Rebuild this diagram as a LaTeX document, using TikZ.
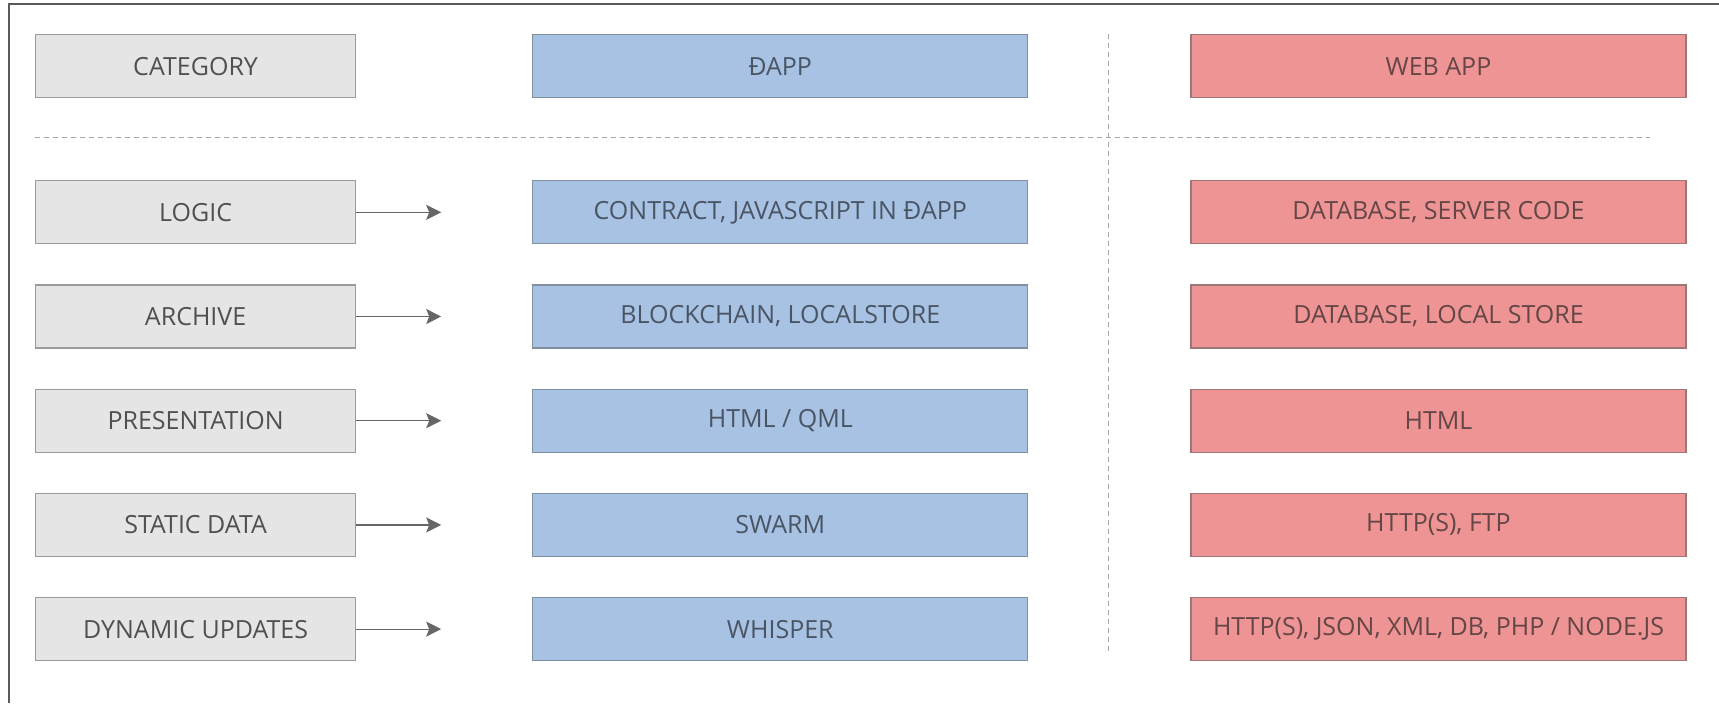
\documentclass[tikz,border=0pt]{standalone}
\usepackage{fontspec}
\setmainfont{Open Sans}
\usepackage{xcolor}
\usetikzlibrary{arrows.meta,positioning}
\definecolor{catgray}{RGB}{229,229,229}
\definecolor{catedge}{RGB}{155,155,155}
\definecolor{dappblue}{RGB}{168,194,228}
\definecolor{dappedge}{RGB}{128,142,160}
\definecolor{webred}{RGB}{239,148,148}
\definecolor{webedge}{RGB}{155,120,120}
\definecolor{txtgray}{RGB}{80,80,80}
\definecolor{txtblue}{RGB}{74,85,100}
\definecolor{txtred}{RGB}{100,70,70}
\definecolor{framegray}{RGB}{90,90,90}

\begin{document}
\begin{tikzpicture}[
  box/.style={draw, line width=0.6pt, minimum height=31.5pt, inner sep=0pt,
              font=\fontsize{12.5}{14}\selectfont},
  cat/.style={box, fill=catgray, draw=catedge, text=txtgray, minimum width=160pt},
  dapp/.style={box, fill=dappblue, draw=dappedge, text=txtblue, minimum width=247.5pt},
  web/.style={box, fill=webred, draw=webedge, text=txtred, minimum width=247.5pt},
  arr/.style={-{Stealth[length=7.5pt, width=7.5pt, inset=1.5pt]}, line width=0.6pt,
              draw=black!60, fill=black!72},
  sep/.style={draw=black!35, line width=0.5pt, dash pattern=on 2.5pt off 2pt},
  node distance=20pt
]
\useasboundingbox (0,0) rectangle (859.5pt,-351.5pt);
\draw[framegray, line width=1pt] (4.5pt,-351.5pt) -- (4.5pt,-2pt) -- (859.5pt,-2pt);

% header row
\node[cat, anchor=north west] at (17.5pt,-17pt) (category) {CATEGORY};
\node[dapp, right=88pt of category] (dapphead) {ĐAPP};
\node[web, right=81pt of dapphead] (webhead) {WEB APP};

% left column
\node[cat, below=41pt of category] (logic) {LOGIC};
\node[cat, below=of logic] (archive) {ARCHIVE};
\node[cat, below=of archive] (present) {PRESENTATION};
\node[cat, below=of present] (static) {STATIC DATA};
\node[cat, below=of static] (dynamic) {DYNAMIC UPDATES};

% dapp column
\node[dapp, right=88pt of logic] (dlogic) {CONTRACT, JAVASCRIPT IN ĐAPP};
\node[dapp, right=88pt of archive] (darchive) {BLOCKCHAIN, LOCALSTORE};
\node[dapp, right=88pt of present] (dpresent) {HTML / QML};
\node[dapp, right=88pt of static] (dstatic) {SWARM};
\node[dapp, right=88pt of dynamic] (ddynamic) {WHISPER};

% web app column
\node[web, right=81pt of dlogic] (wlogic) {DATABASE, SERVER CODE};
\node[web, right=81pt of darchive] (warchive) {DATABASE, LOCAL STORE};
\node[web, right=81pt of dpresent] (wpresent) {HTML};
\node[web, right=81pt of dstatic] (wstatic) {HTTP(S), FTP};
\node[web, right=81pt of ddynamic] (wdynamic) {HTTP(S), JSON, XML, DB, PHP / NODE.JS};

% separators
\coordinate (hsepl) at (17.5pt,-68.5pt);
\coordinate (hsepr) at (825pt,-68.5pt);
\coordinate (vsept) at (554pt,-17pt);
\coordinate (vsepb) at (554pt,-327pt);
\draw[sep] (hsepl) -- (hsepr);
\draw[sep] (vsept) -- (vsepb);

% arrows
\coordinate[right=42.5pt of logic.east] (logicend);
\coordinate[right=42.5pt of archive.east] (archiveend);
\coordinate[right=42.5pt of present.east] (presentend);
\coordinate[right=42.5pt of static.east] (staticend);
\coordinate[right=42.5pt of dynamic.east] (dynamicend);
\draw[arr] (logic) -- (logicend);
\draw[arr] (archive) -- (archiveend);
\draw[arr] (present) -- (presentend);
\draw[arr] (static) -- (staticend);
\draw[arr] (dynamic) -- (dynamicend);

\end{tikzpicture}
\end{document}
